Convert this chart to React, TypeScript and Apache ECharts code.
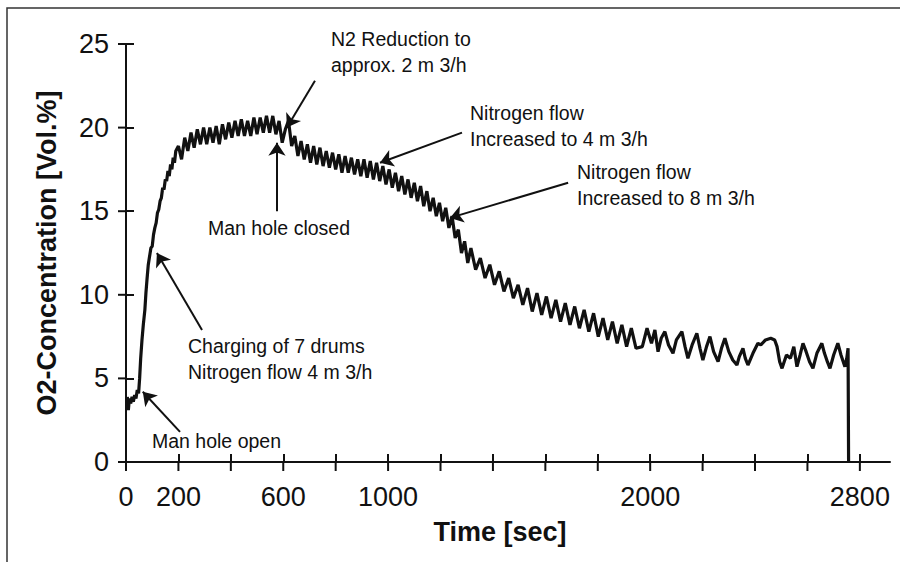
import React, { useEffect, useRef } from "react";
import * as echarts from "echarts";

// Time [sec] of each sample
const TIME = [
  5, 9, 13, 18, 23, 28, 33, 38, 43, 48, 52, 56, 61, 66, 72, 76, 80, 85, 90, 95,
  100, 105, 110, 115, 120, 125, 130, 135, 140, 145, 150, 155, 160, 165, 170, 175, 180, 185, 190,
  200, 212, 224, 236, 248, 260, 272, 284, 296, 308, 320, 332, 344, 356, 368, 380, 392, 404, 416,
  428, 440, 452, 464, 476, 488, 500, 512, 524, 536, 548, 560, 572, 584, 596, 608, 620, 632, 644,
  656, 668, 680, 692, 704, 716, 728, 740, 752, 764, 776, 788, 800, 812, 824, 836, 848, 860, 872,
  884, 896, 908, 920, 932, 944, 956, 968, 980, 992, 1004, 1016, 1028, 1040, 1052, 1064, 1076,
  1088, 1100, 1112, 1124, 1136, 1148, 1160, 1172, 1184, 1196, 1208, 1220, 1232, 1244, 1256, 1268,
  1280, 1292, 1304,
  1316, 1334, 1352, 1370, 1388, 1406, 1424, 1442, 1460, 1478, 1496, 1514, 1532, 1550, 1568, 1586,
  1604, 1622, 1640, 1658, 1676, 1694, 1712, 1730, 1748, 1766, 1784, 1802, 1820, 1838, 1856, 1874,
  1892, 1910, 1928, 1946,
  1970, 1988, 2005, 2018, 2030, 2042, 2056, 2070, 2087, 2100, 2121, 2133, 2144, 2160, 2178, 2190,
  2201, 2215, 2228, 2242, 2259, 2272, 2285, 2300, 2315, 2331, 2340, 2354, 2363, 2373, 2392, 2411,
  2422, 2440, 2460, 2475, 2484, 2494, 2503, 2520, 2535, 2548, 2560, 2572, 2583, 2595, 2608, 2621,
  2636, 2655, 2665, 2676, 2686, 2700, 2716, 2728, 2743, 2750, 2755, 2757,
];

// O2-Concentration [Vol.%]
const O2 = [
  3.9, 3.1, 3.8, 3.5, 3.9, 3.6, 4.0, 3.8, 4.3, 4.1, 5.0, 6.2, 7.3, 8.2, 9.1, 10.1, 10.9, 11.8, 12.3, 12.8,
  12.9, 13.6, 14.0, 14.3, 14.9, 15.1, 15.6, 15.8, 16.4, 16.3, 16.9, 16.8, 17.4, 17.1, 17.8, 17.5, 18.2, 17.9, 18.6,
  18.9, 18.1, 19.4, 18.6, 19.7, 18.8, 19.9, 19.0, 20.0, 19.0, 20.0, 19.1, 20.1, 19.0, 20.2, 19.3, 20.3, 19.4, 20.4,
  19.5, 20.5, 19.5, 20.4, 19.5, 20.6, 19.6, 20.6, 19.7, 20.7, 19.7, 20.7, 19.6, 20.4, 19.1, 19.9, 20.4, 18.9, 19.5,
  18.3, 19.2, 18.1, 19.0, 17.9, 18.9, 17.8, 18.8, 17.7, 18.6, 17.6, 18.5, 17.5, 18.4, 17.3, 18.3, 17.3, 18.2, 17.2,
  18.1, 17.1, 18.1, 17.0, 18.0, 16.9, 17.9, 16.8, 17.7, 16.6, 17.5, 16.4, 17.3, 16.2, 17.1, 16.0, 16.9,
  15.8, 16.7, 15.6, 16.5, 15.3, 16.2, 15.0, 15.8, 14.7, 15.5, 14.4, 15.2, 14.0, 14.7, 13.4, 13.9,
  12.5, 13.2, 11.9,
  12.8, 11.5, 12.2, 11.0, 11.8, 10.6, 11.4, 10.2, 11.0, 9.8, 10.6, 9.4, 10.4, 9.0, 10.1, 8.8,
  9.9, 8.6, 9.7, 8.4, 9.5, 8.2, 9.3, 8.0, 9.1, 7.8, 8.9, 7.5, 8.6, 7.3, 8.4, 7.1,
  8.2, 6.9, 8.0, 6.8,
  6.9, 8.0, 7.1, 7.9, 6.6, 7.4, 7.8, 7.0, 6.5, 7.3, 7.8, 6.9, 6.2, 7.0, 7.7, 6.8,
  6.1, 6.9, 7.5, 6.6, 6.0, 6.8, 7.4, 6.6, 6.1, 5.8, 6.3, 6.8, 6.2, 5.8, 6.5, 7.1,
  7.0, 7.3, 7.4, 7.3, 6.9, 6.0, 5.6, 6.4, 6.2, 6.9, 5.7, 6.4, 7.1, 6.6, 6.0, 5.6,
  6.5, 7.1, 6.5, 6.0, 5.6, 6.4, 7.1, 6.4, 5.7, 6.2, 6.8, 0,
];

const X_TICKS = [0, 200, 400, 600, 800, 1000, 1200, 1400, 1600, 1800, 2000, 2200, 2400, 2600, 2800];
const X_LABELS = [0, 200, 600, 1000, 2000, 2800];
const X_MAX = 2915;
const Y_TICKS = [0, 5, 10, 15, 20, 25];
const Y_MIN = 0;
const Y_MAX = 25;
const Y_STEP = 5;

// Arrow annotations in data coordinates [time, O2]: tail -> head
const ARROW_FROM = [
  [206, 1.8],
  [290, 7.9],
  [576, 15.0],
  [721, 22.8],
  [1282, 19.7],
  [1687, 16.7],
];
const ARROW_TO = [
  [64, 4.2],
  [118, 12.5],
  [576, 19.1],
  [614, 20.0],
  [969, 17.9],
  [1236, 14.6],
];

const NOTE_TEXTS = [
  "Man hole open",
  "Charging of 7 drums\nNitrogen flow 4 m 3/h",
  "Man hole closed",
  "N2 Reduction to\napprox. 2 m 3/h",
  "Nitrogen flow\nIncreased to 4 m 3/h",
  "Nitrogen flow\nIncreased to 8 m 3/h",
];
const NOTE_X = [152, 188, 208, 331, 470, 577];
const NOTE_Y = [441, 359, 228, 52, 126, 185];

const FONT = "'Liberation Sans', Arial, Helvetica, sans-serif";
const INK = "#111";

export default function App() {
  const ref = useRef<HTMLDivElement>(null);

  useEffect(() => {
    if (!ref.current) return;
    const chart = echarts.init(ref.current, null, { renderer: "svg" });
    const data = TIME.map((t, i) => [t, O2[i]]);
    const plain = (v: number) => String(v);
    const tickStyle = { color: INK, width: 2 };

    const arrowLines: any[] = ARROW_FROM.map((f, i) => [
      { coord: f, symbol: "none" },
      { coord: ARROW_TO[i], symbol: "arrow" },
    ]);

    chart.setOption({
      animation: false,
      backgroundColor: "#fff",
      grid: { left: 126, right: 10, top: 44, bottom: 100, containLabel: false },
      xAxis: {
        type: "value",
        min: 0,
        max: X_MAX,
        position: "bottom",
        axisLine: { show: true, onZero: true, lineStyle: { color: INK, width: 2 } },
        // inner half of the crossing ticks comes from the axis itself
        axisTick: { show: true, inside: true, length: 8, customValues: X_TICKS, lineStyle: tickStyle },
        axisLabel: { customValues: X_LABELS, formatter: plain, color: INK, fontSize: 27, fontFamily: FONT, margin: 21 },
        splitLine: { show: false },
        name: "Time [sec]",
        nameLocation: "middle",
        nameGap: 56,
        nameTextStyle: { fontSize: 27, fontWeight: "bold", color: INK, fontFamily: FONT, padding: [0, 16, 0, 0] },
      },
      yAxis: {
        type: "value",
        min: Y_MIN,
        max: Y_MAX,
        interval: Y_STEP,
        position: "left",
        axisLine: { show: true, lineStyle: { color: INK, width: 2 } },
        axisTick: { show: true, inside: true, length: 8, lineStyle: tickStyle },
        axisLabel: { formatter: plain, color: INK, fontSize: 27, fontFamily: FONT, margin: 17 },
        splitLine: { show: false },
        name: "O2-Concentration [Vol.%]",
        nameLocation: "middle",
        nameGap: 66,
        nameTextStyle: { fontSize: 27, fontWeight: "bold", color: INK, fontFamily: FONT },
      },
      series: [
        {
          type: "line",
          data,
          showSymbol: false,
          symbol: "none",
          lineStyle: { color: INK, width: 3.2 },
          markLine: {
            silent: true,
            symbol: ["none", "arrow"],
            symbolSize: 13,
            lineStyle: { color: INK, width: 2, type: "solid" },
            itemStyle: { color: INK },
            label: { show: false },
            emphasis: { disabled: true },
            data: arrowLines,
          },
        },
        {
          // outer half of the crossing x-axis ticks
          type: "custom",
          silent: true,
          clip: false,
          z: 5,
          data: X_TICKS.map((t) => [t, Y_MIN]),
          encode: { x: 0, y: 1 },
          renderItem: (_p: any, api: any) => {
            const p = api.coord([api.value(0), api.value(1)]);
            return {
              type: "line",
              shape: { x1: p[0], y1: p[1] + 9, x2: p[0], y2: p[1] },
              style: { stroke: INK, fill: null, lineWidth: 2 },
            };
          },
        },
        {
          // outer half of the crossing y-axis ticks
          type: "custom",
          silent: true,
          clip: false,
          z: 5,
          data: Y_TICKS.map((v) => [0, v]),
          encode: { x: 0, y: 1 },
          renderItem: (_p: any, api: any) => {
            const p = api.coord([api.value(0), api.value(1)]);
            return {
              type: "line",
              shape: { x1: p[0] - 8, y1: p[1], x2: p[0], y2: p[1] },
              style: { stroke: INK, fill: null, lineWidth: 2 },
            };
          },
        },
      ],
      graphic: [
        {
          type: "rect",
          z: -1,
          silent: true,
          shape: { x: 7, y: 8, width: 1200, height: 1200 },
          style: { fill: "none", stroke: "#333", lineWidth: 1.5 },
        },
        ...NOTE_TEXTS.map((text, i) => ({
          type: "text",
          x: NOTE_X[i],
          y: NOTE_Y[i],
          silent: true,
          style: {
            text,
            fill: INK,
            font: `19.5px ${FONT}`,
            lineHeight: 26,
            verticalAlign: "middle",
            align: "left",
          },
        })),
      ],
    });

    return () => chart.dispose();
  }, []);

  return (
    <div
      ref={ref}
      style={{ position: "fixed", left: 0, top: 0, width: 900, height: 562, background: "#fff" }}
    />
  );
}
